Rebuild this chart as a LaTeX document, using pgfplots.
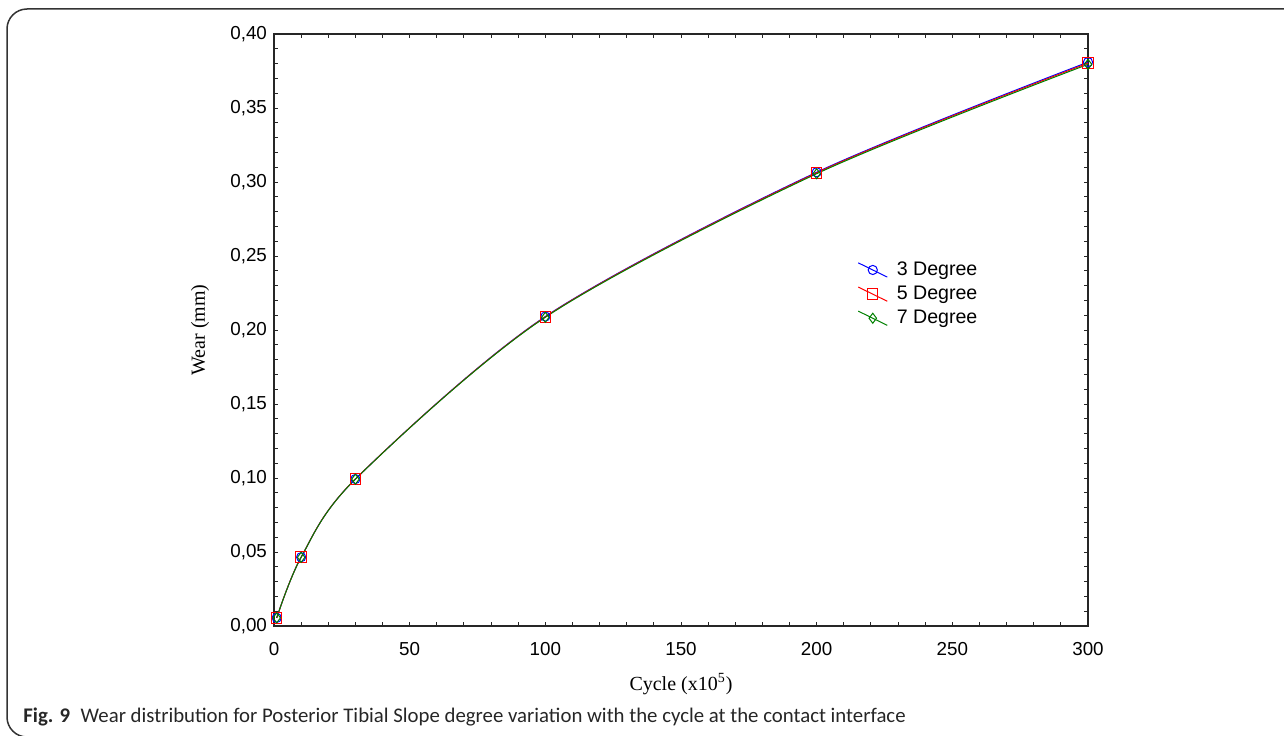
\documentclass[border=0pt]{standalone}
\usepackage{fontspec}
\setmainfont{Liberation Serif}
\newfontfamily\arial{Liberation Sans}
\newfontfamily\capfont{Carlito}
\usepackage{pgfplots}
\pgfplotsset{compat=1.18}

\pgfplotstableread{
x     d3      d5      d7
1     0.0055  0.0055  0.0055
10    0.0465  0.0465  0.0464
30    0.0993  0.0993  0.0992
100   0.2091  0.2089  0.2086
200   0.3066  0.3062  0.3056
300   0.3810  0.3803  0.3795
}\wear

\begin{document}
\begin{tikzpicture}
% page = 1284 x 735 px, 1 px = 0.5pt
\useasboundingbox (0,0) rectangle (642pt,367.5pt);
\begin{scope}[x=0.5pt,y=-0.5pt,shift={(0,367.5pt)}]
  \clip (0,0) rectangle (1284,735);
  \draw[line width=0.75pt,black!80,rounded corners=10pt]
    (1300,9) -- (7,9) -- (7,737) -- (60,737);
\end{scope}
\node[anchor=base west,inner sep=0pt,font=\capfont\fontsize{10.4}{12.5}\selectfont,text=black!85]
  at (11.5pt,6.5pt) {\textbf{Fig. 9}\hspace{0.5em}Wear distribution for Posterior Tibial Slope degree variation with the cycle at the contact interface};
\begin{axis}[
    at={(137pt,54.5pt)}, anchor=south west,
    scale only axis, width=407pt, height=296pt,
    xmin=0, xmax=300, ymin=0, ymax=0.4,
    xtick={0,50,...,300},
    ytick={0,0.05,...,0.4},
    minor tick num=4,
    tick align=inside,
    major tick length=2.2pt, minor tick length=2.2pt,
    axis line style={line width=0.7pt,black!85},
    every tick/.style={black!85,line width=0.5pt},
    ticklabel style={font=\arial\fontsize{9.4}{11}\selectfont},
    /pgf/number format/assume math mode=true,
    yticklabel style={/pgf/number format/.cd,use comma,fixed,fixed zerofill,precision=2},
    xticklabel style={yshift=-4.5pt},
    xlabel={Cycle (x10\textsuperscript{5})},
    ylabel={Wear (mm)},
    label style={font=\fontsize{10}{12}\selectfont},
    xlabel style={at={(axis description cs:0.5,-0.098)},anchor=center},
    ylabel style={at={(axis description cs:-0.0909,0.5)},anchor=center},
    legend style={draw=none,fill=none,at={(axis cs:215,0.2485)},anchor=north west,
        font=\arial\fontsize{9.8}{11}\selectfont,row sep=0.8pt,inner sep=0pt,
        nodes={inner sep=1.5pt},
        /tikz/every odd column/.append style={column sep=3pt}},
    legend cell align=left,
    legend image code/.code={
        \draw[#1,mark=none] (0cm,0.125cm) -- (0.51cm,-0.125cm);
        \draw[#1,only marks] plot coordinates {(0.255cm,0cm)};
    },
]
\addplot[blue,line width=0.5pt,smooth,mark=o,mark size=2.3pt,mark options={solid,fill=none}]
  table[x=x,y=d3] {\wear};
\addlegendentry{3 Degree}
\addplot[red,line width=0.5pt,smooth,mark=square,mark size=2.6pt,mark options={solid,fill=none}]
  table[x=x,y=d5] {\wear};
\addlegendentry{5 Degree}
\addplot[black!50!green,line width=0.5pt,smooth,mark=diamond,mark size=2.5pt,mark options={solid,fill=none}]
  table[x=x,y=d7] {\wear};
\addlegendentry{7 Degree}
\end{axis}
\end{tikzpicture}
\end{document}
